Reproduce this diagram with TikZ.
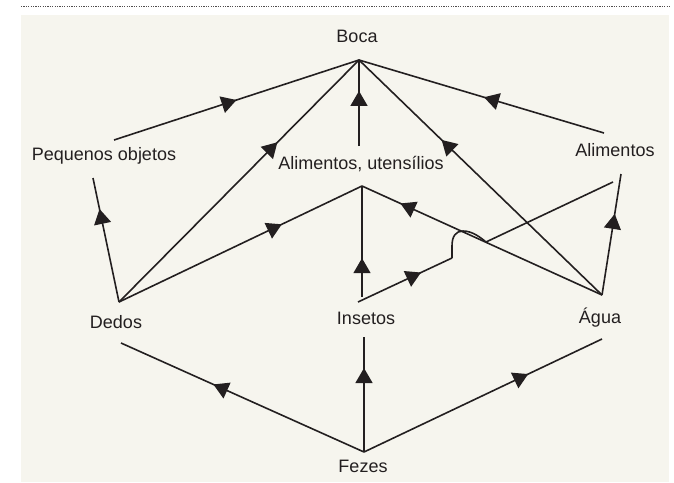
\documentclass[tikz,border=0pt]{standalone}
\usepackage{fontspec}
\setmainfont{Liberation Sans}
\usetikzlibrary{arrows.meta,decorations.markings}
\definecolor{paper}{HTML}{F6F5EE}
\definecolor{ink}{HTML}{231F20}
\tikzset{
  word/.style={font=\fontsize{18}{21}\selectfont, text=ink, anchor=base, inner sep=0pt},
  link/.style={draw=ink, line width=1.6pt, line join=miter},
  flow/.style={link, postaction={decorate, decoration={markings,
      mark=at position #1 with {\arrow{Triangle[length=15pt,width=17pt]}}}}},
}

\begin{document}
\begin{tikzpicture}[x=1pt, y=-1pt]
  \useasboundingbox (0,0) rectangle (674,482);
  \fill[paper] (21,15) rectangle (669,482);
  \draw[ink!80, line width=0.9pt, dash pattern=on 1.2pt off 1.2pt] (21,6) -- (671,6);

  % texts
  \node[word] (boca) at (357,42) {Boca};
  \node[word] (objetos) at (104,160) {Pequenos objetos};
  \node[word] (utensilios) at (361,169) {Alimentos, utensílios};
  \node[word] (alimentos) at (615,156) {Alimentos};
  \node[word] (dedos) at (116,328) {Dedos};
  \node[word] (insetos) at (366,324) {Insetos};
  \node[word] (agua) at (600,323) {Água};
  \node[word] (fezes) at (363,472) {Fezes};

  % line ends
  \coordinate (bocaB) at (359,60);
  \coordinate (objA) at (114,140);
  \coordinate (objB) at (93,178);
  \coordinate (utenT) at (359,146);
  \coordinate (utenB) at (362,186);
  \coordinate (alimT) at (604,133);
  \coordinate (alimB) at (613,182);
  \coordinate (alimC) at (621,174);
  \coordinate (dedT) at (119,302);
  \coordinate (dedB) at (121,343);
  \coordinate (insT) at (362,297);
  \coordinate (insL) at (358,302);
  \coordinate (insB) at (364,337);
  \coordinate (aguaT) at (602,295);
  \coordinate (aguaB) at (602,339);
  \coordinate (fezT) at (364,452);
  \coordinate (hopA) at (452,258);
  \coordinate (hopB) at (486,242);

  \draw[flow=0.5] (objA) -- (bocaB);
  \draw[flow=0.66] (dedT) -- (bocaB);
  \draw[flow=0.64] (utenT) -- (bocaB);
  \draw[flow=0.49] (alimT) -- (bocaB);
  \draw[flow=0.66] (aguaT) -- (bocaB);

  \draw[flow=0.67] (dedT) -- (utenB);
  \draw[flow=0.35] (insT) -- (utenB);
  \draw[flow=0.84] (aguaT) -- (utenB);

  \draw[flow=0.67] (insL) -- (hopA);
  \draw[link] (hopA) -- ++(0,-12) .. controls (452,236) and (456,231) .. (463,231)
    .. controls (472,231) and (480,237) .. (hopB) -- (alimB);
  \draw[flow=0.67] (aguaT) -- (alimC);
  \draw[flow=0.75] (dedT) -- (objB);

  \draw[flow=0.62] (fezT) -- (dedB);
  \draw[flow=0.73] (fezT) -- (insB);
  \draw[flow=0.69] (fezT) -- (aguaB);
\end{tikzpicture}
\end{document}
